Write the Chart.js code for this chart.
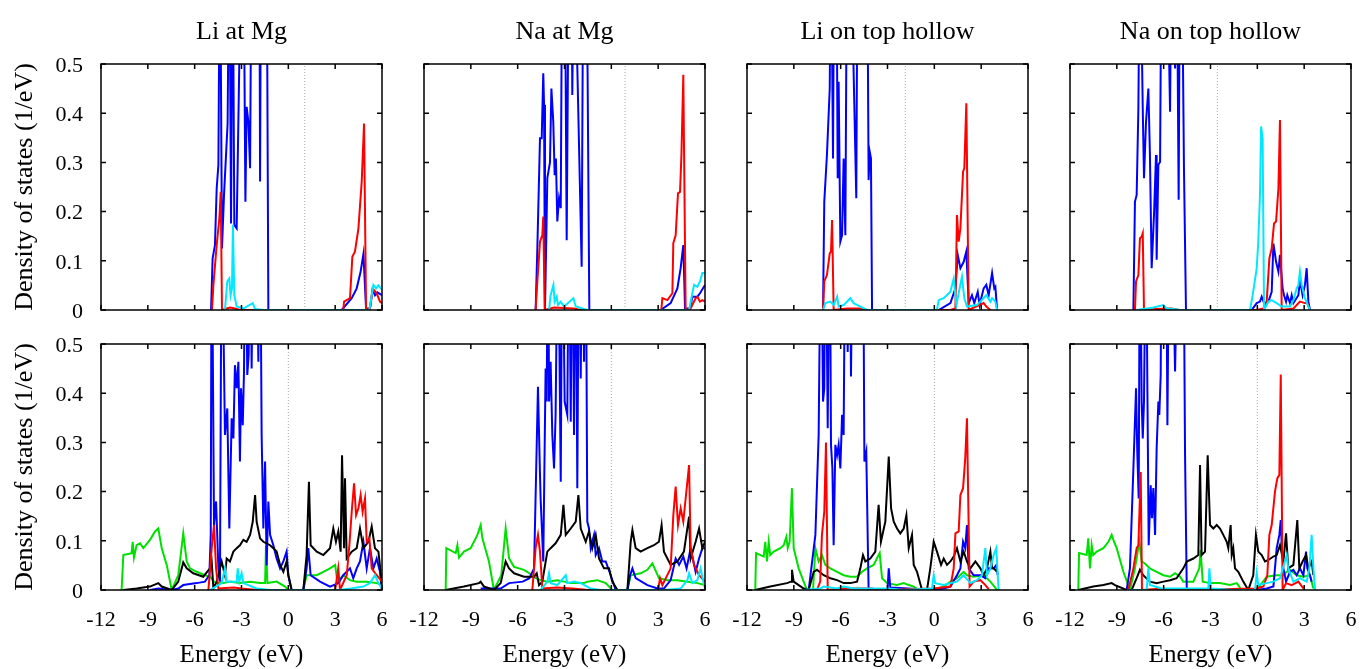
<!DOCTYPE html>
<html>
<head>
<meta charset="utf-8">
<script src="https://cdn.jsdelivr.net/npm/chart.js@4.4.1/dist/chart.umd.min.js"></script>
<style>
  body { margin: 0; background: #fff; width: 1363px; height: 669px; position: relative; overflow: hidden; }
  canvas { position: absolute; }
</style>
</head>
<body>
<script>
// panel headings and Fermi levels (dotted line), top row / bottom row
const titles = ["Li at Mg", "Na at Mg", "Li on top hollow", "Na on top hollow"];
const fermiTop = [1.05, 0.88, -1.86, -2.56];
const fermiBottom = [0, 0, 0, 0];
const energyTicks = [-12, -9, -6, -3, 0, 3, 6];
const dosTicks = [0, 0.1, 0.2, 0.3, 0.4, 0.5];

// [energy (eV), DOS (1/eV)] -- values above 0.5 run off the top of the frame
// --- Li at Mg, top
const liMgTopBlue = [[-4.95,0],[-4.85,0.105],[-4.70,0.132],[-4.59,0.247],[-4.48,0.295],[-4.38,0.8],[-4.25,0.125],[-4.12,0.234],[-3.89,0.379],[-3.78,0.8],[-3.67,0.176],[-3.57,0.8],[-3.46,0.173],[-3.31,0.166],[-2.99,0.8],[-2.88,0.8],[-2.75,0.22],[-2.67,0.413],[-2.56,0.383],[-2.45,0.288],[-2.35,0.8],[-1.86,0.8],[-1.81,0.261],[-1.75,0.8],[-1.39,0.8],[-1.28,0],[3.42,0],[4.06,0.024],[4.38,0.044],[4.63,0.078],[4.81,0.114],[4.98,0.003],[5.23,0.003],[5.40,0.041],[5.55,0.03],[5.70,0.036],[6.0,0.03]];
const liMgTopRed = [[-4.89,0],[-4.80,0.051],[-4.59,0.132],[-4.42,0.186],[-4.33,0.24],[-4.25,0],[-3.74,0.005],[-3.42,0.003],[-3.10,0],[3.52,0],[3.57,0.017],[3.95,0.024],[4.10,0.108],[4.27,0.119],[4.49,0.166],[4.70,0.261],[4.85,0.379],[4.98,0],[5.23,0.003],[5.40,0.044],[5.66,0.034],[5.87,0.017],[6.0,0.014]];
const liMgTopCyan = [[-4.06,0],[-3.91,0.058],[-3.78,0.064],[-3.70,0.03],[-3.61,0.044],[-3.55,0.173],[-3.46,0.03],[-3.31,0.007],[-2.88,0.003],[-2.28,0.014],[-2.13,0.002],[-1.60,0],[5.19,0],[5.45,0.051],[5.62,0.044],[5.77,0.05],[6.0,0.041]];

// --- Li at Mg, bottom
const liMgBotGreen = [[-10.68,0],[-10.57,0.071],[-10.04,0.075],[-9.97,0.098],[-9.89,0.066],[-9.72,0.091],[-9.50,0.095],[-9.29,0.085],[-8.86,0.102],[-8.54,0.119],[-8.33,0.125],[-8.11,0.085],[-7.79,0.051],[-7.47,0],[-7.05,0.03],[-6.73,0.115],[-6.51,0.058],[-6.30,0.044],[-5.87,0.037],[-5.34,0.03],[-5.02,0.027],[-4.76,0.017],[-4.48,0.014],[-4.16,0.014],[-3.74,0.017],[-3.10,0.014],[-2.45,0.017],[-1.81,0.014],[-1.49,0.014],[-1.43,0.09],[-1.34,0.014],[-0.75,0.017],[-0.21,0.007],[0,0],[0.96,0],[1.17,0.03],[1.82,0.03],[2.24,0.037],[2.67,0.044],[3.0,0.051],[3.14,0.017],[3.52,0.03],[3.95,0.02],[4.38,0.017],[5.02,0.017],[5.66,0.014],[6.0,0.01]];
const liMgBotBlack = [[-10.57,0],[-9.72,0.003],[-8.86,0.007],[-8.33,0.014],[-8.11,0.007],[-7.47,0],[-7.05,0.017],[-6.73,0.056],[-6.51,0.044],[-6.09,0.034],[-5.45,0.027],[-5.02,0.044],[-4.91,0.058],[-4.80,0.003],[-4.59,0.017],[-4.27,0.058],[-4.06,0.03],[-3.95,0.064],[-3.74,0.058],[-3.52,0.078],[-3.31,0.085],[-3.10,0.091],[-2.88,0.102],[-2.67,0.098],[-2.45,0.112],[-2.28,0.139],[-2.13,0.193],[-2.03,0.139],[-1.81,0.105],[-1.60,0.098],[-1.17,0.091],[-0.96,0.085],[-0.75,0.078],[-0.53,0.051],[-0.32,0.037],[-0.11,0.058],[0,0.03],[0.21,0],[0.96,0],[1.17,0.071],[1.32,0.22],[1.43,0.091],[1.82,0.078],[2.24,0.071],[2.67,0.085],[2.88,0.125],[3.05,0.098],[3.20,0.119],[3.35,0.078],[3.44,0.274],[3.57,0.085],[3.63,0.227],[3.74,0.064],[4.06,0.078],[4.38,0.085],[4.59,0.125],[4.81,0.085],[5.13,0.098],[5.34,0.129],[5.55,0.085],[5.77,0.078],[5.90,0.04],[6.0,0]];
const liMgBotRed = [[-5.12,0],[-4.91,0.085],[-4.76,0.132],[-4.63,0.044],[-4.48,0.003],[-3.5,0.005],[-3.0,0.003],[-2.0,0],[3.0,0],[3.20,0.044],[3.31,0],[3.74,0.03],[3.91,0.091],[4.06,0.159],[4.21,0.217],[4.34,0.152],[4.49,0.166],[4.63,0.193],[4.76,0.159],[4.91,0.186],[5.02,0.098],[5.19,0.105],[5.34,0.044],[5.66,0.03],[6.0,0.017]];
const liMgBotBlue = [[-8.86,0],[-8.33,0.003],[-7.47,0],[-7.05,0.003],[-6.73,0.01],[-5.87,0.014],[-5.34,0.017],[-5.06,0.03],[-4.97,0.112],[-4.91,0.8],[-4.76,0.132],[-4.63,0.18],[-4.48,0.044],[-4.38,0.017],[-4.27,0.8],[-4.06,0.315],[-3.91,0.369],[-3.78,0.125],[-3.63,0.349],[-3.52,0.308],[-3.42,0.457],[-3.31,0.41],[-3.20,0.464],[-3.10,0.261],[-3.03,0.41],[-2.92,0.335],[-2.84,0.444],[-2.75,0.8],[-2.63,0.437],[-2.54,0.478],[-2.45,0.8],[-2.35,0.45],[-2.24,0.8],[-2.07,0.8],[-1.92,0.464],[-1.81,0.8],[-1.71,0.315],[-1.60,0.125],[-1.49,0.261],[-1.39,0.05],[-1.28,0.18],[-1.17,0.112],[-0.96,0.091],[-0.75,0.064],[-0.53,0.044],[-0.32,0.058],[-0.11,0.078],[0,0.03],[0.21,0],[0.96,0],[1.17,0.044],[1.28,0.085],[1.43,0.03],[2.03,0.017],[2.67,0.007],[3.20,0.014],[3.52,0.03],[3.95,0.044],[4.16,0.024],[4.38,0.044],[4.59,0.058],[4.81,0.098],[5.02,0.044],[5.23,0.085],[5.45,0.044],[5.66,0.064],[5.87,0.037],[6.0,0]];
const liMgBotCyan = [[-5.02,0],[-4.27,0.014],[-4.16,0.03],[-4.06,0.044],[-3.95,0.017],[-3.31,0.017],[-3.24,0.044],[-3.14,0.017],[-2.99,0.034],[-2.88,0.014],[-2.03,0.003],[-1.17,0],[3.2,0],[4.0,0.003],[4.81,0.007],[5.23,0.014],[5.55,0.03],[5.77,0.014],[6.0,0.003]];

// --- Na at Mg, top
const naMgTopBlue = [[-4.85,0],[-4.74,0.125],[-4.57,0.349],[-4.46,0.349],[-4.36,0.481],[-4.31,0.417],[-4.25,0],[-4.10,0.268],[-3.93,0.30],[-3.84,0.45],[-3.72,0.383],[-3.63,0.274],[-3.55,0.308],[-3.46,0.18],[-3.35,0.227],[-3.24,0.207],[-3.14,0.8],[-2.99,0.8],[-2.86,0.142],[-2.71,0.8],[-2.56,0.8],[-2.50,0.437],[-2.39,0.8],[-1.90,0.088],[-1.79,0.8],[-1.64,0.8],[-1.52,0.478],[-1.41,0],[3.16,0],[3.80,0.014],[4.23,0.044],[4.44,0.085],[4.61,0.132],[4.72,0.003],[5.04,0.003],[5.19,0.027],[5.51,0.027],[5.68,0.034],[6.0,0.051]];
const naMgTopRed = [[-4.85,0],[-4.74,0.058],[-4.57,0.139],[-4.42,0.152],[-4.36,0.19],[-4.27,0],[-3.67,0.005],[-2.39,0.003],[-1.96,0],[3.20,0],[3.27,0.024],[3.59,0.02],[3.91,0.034],[3.97,0.136],[4.12,0.152],[4.27,0.237],[4.40,0.24],[4.49,0.315],[4.61,0.478],[4.76,0],[5.08,0.003],[5.40,0.024],[5.51,0.027],[5.68,0.017],[5.83,0.02],[6.0,0.017]];
const naMgTopCyan = [[-3.99,0],[-3.89,0.03],[-3.71,0.051],[-3.63,0.017],[-3.50,0.027],[-3.42,0.01],[-3.24,0.017],[-3.03,0.007],[-2.43,0.024],[-2.28,0.007],[-1.54,0],[4.98,0],[5.13,0.024],[5.30,0.051],[5.51,0.047],[5.68,0.058],[5.83,0.075],[6.0,0.075]];

// --- Na at Mg, bottom
const naMgBotGreen = [[-10.61,0],[-10.57,0.085],[-9.97,0.075],[-9.86,0.091],[-9.76,0.066],[-9.44,0.078],[-9.01,0.085],[-8.58,0.112],[-8.37,0.132],[-8.26,0.105],[-7.84,0.058],[-7.52,0],[-7.05,0.03],[-6.77,0.125],[-6.55,0.064],[-6.23,0.047],[-5.59,0.041],[-5.06,0.03],[-4.85,0.024],[-4.53,0.02],[-4.10,0.017],[-3.46,0.02],[-3.03,0.017],[-2.60,0.014],[-2.18,0.014],[-1.75,0.014],[-1.54,0.017],[-0.90,0.02],[-0.36,0.014],[0.06,0],[1.03,0],[1.24,0.03],[1.88,0.034],[2.31,0.041],[2.63,0.054],[2.73,0.047],[3.05,0.024],[3.59,0.02],[4.23,0.02],[4.87,0.017],[5.51,0.014],[6.0,0.01]];
const naMgBotBlack = [[-10.61,0],[-9.44,0.007],[-8.48,0.014],[-8.37,0.017],[-8.16,0.007],[-7.52,0],[-7.09,0.014],[-6.77,0.058],[-6.55,0.044],[-6.23,0.034],[-5.59,0.027],[-4.95,0.027],[-4.78,0.034],[-4.63,0.01],[-4.42,0.017],[-4.10,0.078],[-3.89,0.085],[-3.57,0.095],[-3.24,0.112],[-3.07,0.173],[-2.92,0.112],[-2.60,0.125],[-2.28,0.139],[-2.11,0.193],[-1.96,0.125],[-1.64,0.098],[-1.43,0.119],[-1.22,0.085],[-1.0,0.112],[-0.79,0.064],[-0.47,0.044],[-0.15,0.044],[0.06,0.017],[0.39,0],[1.03,0],[1.24,0.098],[1.35,0.122],[1.56,0.085],[1.88,0.078],[2.31,0.085],[2.73,0.091],[3.05,0.098],[3.22,0.132],[3.37,0.078],[3.80,0.051],[4.23,0.058],[4.65,0.078],[4.98,0.149],[5.08,0.064],[5.40,0.098],[5.62,0.125],[5.83,0.085],[6.0,0.098]];
const naMgBotRed = [[-5.06,0],[-4.85,0.085],[-4.70,0.112],[-4.57,0.078],[-4.42,0.003],[-3.5,0.005],[-2.5,0.003],[-1.5,0],[3.0,0],[3.12,0.024],[3.27,0.01],[3.80,0.044],[3.97,0.152],[4.12,0.21],[4.27,0.132],[4.44,0.166],[4.61,0.139],[4.76,0.186],[4.98,0.254],[5.08,0.085],[5.30,0.051],[5.62,0.03],[6.0,0.017]];
const naMgBotBlue = [[-8.37,0.003],[-7.09,0.003],[-6.55,0.014],[-5.67,0.017],[-5.25,0.024],[-4.95,0.044],[-4.70,0.413],[-4.57,0.234],[-4.53,0.186],[-4.36,0.058],[-4.21,0.45],[-4.14,0.383],[-4.06,0.8],[-3.99,0.383],[-3.89,0.464],[-3.78,0.315],[-3.67,0.247],[-3.57,0.356],[-3.42,0.8],[-3.24,0.22],[-3.14,0.8],[-2.99,0.383],[-2.82,0.356],[-2.71,0.8],[-2.60,0.342],[-2.50,0.8],[-2.39,0.315],[-2.28,0.8],[-2.18,0.207],[-2.07,0.8],[-1.96,0.43],[-1.86,0.8],[-1.75,0.464],[-1.64,0.8],[-1.54,0.139],[-1.43,0.125],[-1.32,0.085],[-1.11,0.112],[-1.0,0.071],[-0.79,0.085],[-0.58,0.058],[-0.36,0.058],[-0.04,0.03],[0.28,0],[1.03,0],[1.20,0.03],[1.35,0.044],[1.56,0.024],[2.31,0.01],[2.95,0.003],[3.37,0.003],[3.80,0.02],[4.12,0.064],[4.34,0.051],[4.61,0.068],[4.82,0.044],[5.08,0.085],[5.40,0.037],[5.62,0.064],[5.83,0.085],[6.0,0.085]];
const naMgBotCyan = [[-4.53,0],[-4.10,0.017],[-3.99,0.034],[-3.89,0.014],[-3.46,0.01],[-2.92,0.03],[-2.82,0.014],[-2.39,0.017],[-1.96,0.014],[-1.32,0.003],[-0.68,0],[3.37,0],[4.44,0.003],[4.87,0.02],[4.98,0.034],[5.19,0.014],[5.51,0.02],[5.72,0.044],[5.89,0.017],[6.0,0.003]];

// --- Li on top hollow, top
const liTopTopBlue = [[-7.13,0],[-7.05,0.22],[-6.88,0.315],[-6.70,0.45],[-6.62,0.8],[-6.49,0.308],[-6.41,0.8],[-6.28,0.8],[-6.19,0.268],[-6.13,0.464],[-6.02,0.139],[-5.91,0.152],[-5.81,0.308],[-5.70,0.152],[-5.59,0.8],[-5.38,0.8],[-5.0,0.227],[-4.91,0.8],[-4.31,0.8],[-4.21,0.264],[-4.14,0.322],[-4.06,0.308],[-3.99,0],[0.28,0],[1.03,0.014],[1.35,0.044],[1.50,0.112],[1.67,0.085],[1.88,0.098],[2.05,0.119],[2.20,0.014],[2.41,0.03],[2.56,0.014],[2.78,0.037],[2.90,0.01],[3.16,0.044],[3.33,0.051],[3.48,0.03],[3.70,0.075],[3.84,0.044],[3.91,0.047],[4.02,0]];
const liTopTopRed = [[-7.13,0],[-7.05,0.058],[-6.88,0.071],[-6.70,0.115],[-6.62,0.119],[-6.55,0.183],[-6.45,0],[-5.59,0.003],[-4.74,0.003],[-4.31,0],[1.03,0],[1.35,0.003],[1.45,0.193],[1.56,0.139],[1.67,0.166],[1.84,0.281],[1.92,0.288],[2.05,0.42],[2.20,0],[3.16,0.014],[3.33,0.007],[3.59,0]];
const liTopTopCyan = [[-7.13,0],[-6.98,0.014],[-6.66,0.017],[-6.45,0.01],[-6.23,0.027],[-6.13,0.007],[-5.81,0.01],[-5.38,0.024],[-5.17,0.014],[-4.74,0.007],[-4.31,0],[0.17,0],[0.28,0.02],[0.60,0.024],[1.03,0.037],[1.24,0.064],[1.41,0.01],[1.62,0.044],[1.77,0.068],[1.92,0.024],[2.09,0.007],[2.73,0.01],[3.33,0.03],[3.59,0.017],[3.70,0.024],[3.91,0.017],[4.02,0]];

// --- Li on top hollow, bottom
const liTopBotGreen = [[-11.47,0],[-11.42,0.075],[-10.93,0.068],[-10.83,0.098],[-10.72,0.058],[-10.61,0.098],[-10.51,0.071],[-10.29,0.078],[-9.86,0.085],[-9.65,0.091],[-9.48,0.108],[-9.39,0.085],[-9.27,0.098],[-9.12,0.207],[-9.01,0.085],[-8.69,0.044],[-8.37,0.017],[-8.16,0],[-7.77,0],[-7.62,0.085],[-7.41,0.058],[-7.20,0.071],[-6.98,0.051],[-6.66,0.044],[-6.23,0.037],[-5.81,0.03],[-5.38,0.027],[-4.95,0.027],[-4.63,0.037],[-4.31,0.044],[-3.89,0.051],[-3.50,0.075],[-3.35,0.024],[-3.03,0.014],[-2.39,0.01],[-1.96,0.014],[-1.64,0.01],[-1.32,0.007],[-1.0,0],[-0.04,0],[0.60,0.007],[1.03,0.017],[1.45,0.024],[1.88,0.037],[2.09,0.03],[2.52,0.027],[3.16,0.03],[3.59,0.017],[4.02,0]];
const liTopBotBlack = [[-11.47,0],[-10.51,0.007],[-9.44,0.014],[-9.18,0.017],[-9.12,0.041],[-9.01,0.017],[-8.37,0.003],[-8.05,0],[-7.73,0.037],[-7.52,0.041],[-7.09,0.03],[-6.66,0.024],[-6.23,0.02],[-5.81,0.014],[-5.38,0.014],[-4.95,0.017],[-4.74,0.044],[-4.57,0.071],[-4.42,0.058],[-4.10,0.064],[-3.78,0.078],[-3.57,0.173],[-3.42,0.098],[-3.14,0.139],[-2.92,0.271],[-2.77,0.166],[-2.60,0.139],[-2.39,0.125],[-2.18,0.115],[-1.96,0.125],[-1.79,0.152],[-1.64,0.085],[-1.43,0.112],[-1.32,0.051],[-1.11,0.037],[-0.79,0],[-0.47,0],[-0.26,0.044],[-0.04,0.098],[0.17,0.078],[0.43,0.051],[0.60,0.064],[0.81,0.051],[1.03,0.058],[1.24,0.068],[1.45,0.085],[1.67,0.058],[1.88,0.078],[2.09,0.058],[2.31,0.044],[2.63,0.058],[2.95,0.044],[3.16,0.03],[3.37,0.044],[3.59,0.078],[3.70,0.044],[3.80,0.044],[4.02,0.037]];
const liTopBotRed = [[-7.52,0],[-7.31,0.017],[-7.20,0.112],[-7.05,0.159],[-6.94,0.30],[-6.83,0],[-6.0,0.003],[-4.0,0.003],[-3.5,0],[-0.04,0.003],[1.03,0.007],[1.24,0.044],[1.35,0.115],[1.56,0.119],[1.67,0.193],[1.84,0.207],[1.98,0.268],[2.09,0.349],[2.26,0.007],[2.52,0.017],[2.95,0.02],[3.27,0.01],[3.48,0.002]];
const liTopBotBlue = [[-8.05,0],[-7.62,0.112],[-7.41,0.315],[-7.26,0.8],[-7.13,0.383],[-7.05,0.41],[-6.96,0.8],[-6.83,0.329],[-6.70,0.8],[-6.62,0.295],[-6.53,0.247],[-6.45,0.091],[-6.34,0.295],[-6.23,0.274],[-6.13,0.295],[-6.02,0.247],[-5.91,0.356],[-5.81,0.315],[-5.70,0.8],[-5.55,0.484],[-5.42,0.8],[-5.34,0.434],[-5.21,0.8],[-5.06,0.8],[-4.57,0.8],[-4.48,0.261],[-4.36,0.281],[-4.27,0.112],[-4.21,0],[-3.0,0],[-2.92,0.044],[-2.82,0.005],[-0.04,0],[0.6,0.003],[1.03,0.007],[1.45,0.03],[1.67,0.044],[1.84,0.098],[1.98,0.085],[2.09,0.132],[2.20,0.044],[2.52,0.03],[2.95,0.03],[3.27,0.024],[3.48,0.044],[3.80,0.044],[3.97,0.051],[4.06,0.03]];
const liTopBotCyan = [[-8.37,0],[-7.31,0.003],[-7.09,0.007],[-6.23,0.003],[-5.81,0.007],[-5.17,0.003],[-4.10,0.003],[-2.92,0.003],[-1.96,0],[-0.15,0.003],[-0.04,0.03],[0.06,0.014],[0.60,0.01],[1.03,0.014],[1.45,0.017],[1.88,0.03],[2.31,0.014],[2.73,0.02],[3.05,0.03],[3.27,0.085],[3.37,0.03],[3.59,0.044],[3.80,0.071],[3.97,0.085],[4.06,0.03],[4.12,0]];

// --- Na on top hollow, top
const naTopTopBlue = [[-7.94,0],[-7.84,0.22],[-7.73,0.234],[-7.62,0.41],[-7.52,0.8],[-7.34,0.41],[-7.26,0.268],[-7.13,0.383],[-6.98,0.45],[-6.88,0.315],[-6.77,0.085],[-6.62,0.193],[-6.49,0.315],[-6.45,0.102],[-6.34,0.295],[-6.23,0.301],[-6.13,0.8],[-5.81,0.8],[-5.59,0.403],[-5.49,0.8],[-5.27,0.491],[-5.17,0.8],[-5.04,0.224],[-4.95,0.8],[-4.85,0.8],[-4.70,0.288],[-4.57,0],[-0.36,0],[-0.04,0.014],[0.17,0.017],[0.28,0.027],[0.43,0.014],[0.71,0.017],[0.92,0.037],[1.03,0.135],[1.20,0.098],[1.35,0.078],[1.45,0.112],[1.62,0.044],[1.71,0.03],[1.84,0.017],[1.92,0.03],[2.09,0.014],[2.20,0.03],[2.31,0.014],[2.63,0.03],[2.73,0.061],[2.90,0.03],[3.05,0.051],[3.16,0.085],[3.27,0.017],[3.37,0]];
const naTopTopRed = [[-7.84,0],[-7.77,0.058],[-7.62,0.071],[-7.52,0.146],[-7.41,0.149],[-7.34,0.156],[-7.26,0],[-6.5,0.002],[-5.5,0.003],[-5.0,0],[-0.04,0],[0.39,0.003],[0.60,0.017],[0.77,0.105],[0.92,0.125],[1.07,0.176],[1.20,0.18],[1.35,0.247],[1.45,0.386],[1.56,0],[2.31,0.003],[2.73,0.017],[3.05,0.014],[3.20,0.014],[3.33,0.003]];
const naTopTopCyan = [[-7.73,0],[-7.09,0.003],[-6.66,0.005],[-6.02,0.01],[-5.81,0.003],[-5.38,0.002],[-4.95,0],[-0.47,0],[-0.30,0.03],[-0.04,0.085],[0.06,0.139],[0.17,0.234],[0.24,0.373],[0.34,0.349],[0.43,0],[0.71,0.017],[0.92,0.02],[1.24,0.014],[1.56,0.007],[2.09,0.007],[2.31,0.02],[2.52,0.044],[2.63,0.051],[2.73,0.078],[2.84,0.051],[3.05,0.024],[3.27,0.007],[3.37,0]];

// --- Na on top hollow, bottom
const naTopBotGreen = [[-11.47,0],[-11.42,0.075],[-10.93,0.071],[-10.83,0.105],[-10.72,0.044],[-10.61,0.091],[-10.51,0.071],[-10.29,0.078],[-9.86,0.085],[-9.54,0.098],[-9.33,0.112],[-9.22,0.102],[-9.01,0.085],[-8.58,0.037],[-8.16,0],[-7.84,0.044],[-7.56,0.098],[-7.41,0.058],[-7.20,0.054],[-6.88,0.044],[-6.45,0.037],[-6.02,0.03],[-5.59,0.027],[-5.27,0.034],[-4.95,0.027],[-4.74,0.017],[-4.10,0.017],[-3.72,0.044],[-3.63,0.081],[-3.50,0.017],[-3.03,0.014],[-2.39,0.014],[-1.75,0.01],[-1.32,0.014],[-1.0,0],[-0.04,0],[0.60,0.027],[1.24,0.03],[1.67,0.03],[1.88,0.037],[2.09,0.041],[2.52,0.03],[2.95,0.027],[3.37,0.03],[3.59,0.003]];
const naTopBotBlack = [[-11.47,0],[-10.51,0.007],[-9.86,0.01],[-9.33,0.014],[-9.12,0.01],[-8.37,0],[-8.05,0],[-7.73,0.024],[-7.52,0.041],[-7.31,0.03],[-6.88,0.017],[-6.45,0.014],[-6.02,0.017],[-5.59,0.02],[-5.17,0.024],[-4.74,0.044],[-4.52,0.058],[-4.10,0.064],[-3.78,0.071],[-3.67,0.254],[-3.57,0.071],[-3.35,0.078],[-3.18,0.274],[-3.03,0.132],[-2.82,0.125],[-2.60,0.132],[-2.39,0.125],[-2.18,0.112],[-1.96,0.098],[-1.86,0.085],[-1.71,0.132],[-1.64,0.071],[-1.54,0.085],[-1.43,0.044],[-1.22,0.037],[-0.90,0.017],[-0.58,0],[-0.26,0.03],[-0.09,0.112],[0.06,0.078],[0.28,0.071],[0.49,0.058],[0.71,0.061],[1.03,0.068],[1.24,0.071],[1.45,0.091],[1.67,0.058],[1.84,0.115],[1.98,0.044],[2.31,0.051],[2.56,0.142],[2.69,0.044],[2.90,0.058],[3.12,0.071],[3.27,0.044],[3.48,0.058],[3.59,0.03]];
const naTopBotRed = [[-8.26,0],[-7.94,0.044],[-7.73,0.085],[-7.62,0.091],[-7.47,0.24],[-7.39,0],[-6.5,0.002],[-5.0,0],[-0.04,0.003],[0.39,0.007],[0.64,0.03],[0.77,0.112],[0.92,0.132],[1.13,0.2],[1.28,0.227],[1.41,0.234],[1.50,0.438],[1.62,0],[1.84,0.014],[2.20,0.01],[2.63,0.017],[2.95,0.003]];
const naTopBotBlue = [[-8.37,0],[-8.16,0.044],[-7.94,0.247],[-7.77,0.41],[-7.69,0.281],[-7.60,0.186],[-7.52,0.8],[-7.41,0.383],[-7.34,0.308],[-7.26,0.383],[-7.13,0.8],[-7.05,0.437],[-6.96,0.091],[-6.83,0.213],[-6.75,0.146],[-6.66,0.207],[-6.55,0.112],[-6.45,0.288],[-6.34,0.383],[-6.28,0.356],[-6.19,0.437],[-6.13,0.8],[-5.85,0.8],[-5.76,0.335],[-5.64,0.8],[-5.49,0.8],[-5.27,0.444],[-5.06,0.8],[-4.74,0.8],[-4.63,0.274],[-4.52,0],[-0.04,0],[0.60,0.003],[1.03,0.007],[1.24,0.085],[1.41,0.112],[1.50,0.142],[1.58,0.078],[1.67,0.044],[1.84,0.017],[2.09,0.037],[2.31,0.041],[2.52,0.03],[2.73,0.044],[2.95,0.03],[3.12,0.078],[3.20,0.044],[3.37,0.03],[3.48,0.017]];
const naTopBotCyan = [[-8.37,0],[-7.09,0],[-6.98,0.044],[-6.88,0.01],[-6.13,0.003],[-5.06,0.003],[-3.57,0.003],[-3.14,0.003],[-3.07,0.044],[-2.99,0.003],[-1.54,0],[-0.15,0],[-0.04,0.034],[0.06,0.01],[0.60,0.014],[1.03,0.017],[1.45,0.024],[1.88,0.071],[1.98,0.044],[2.31,0.017],[2.73,0.024],[3.16,0.017],[3.33,0.044],[3.48,0.112],[3.59,0.044],[3.70,0]];

const COLORS = { blue: '#0000ff', red: '#ff0000', cyan: '#00e8ff', green: '#00e000', black: '#000000' };
const FONT = "'Liberation Serif', 'Times New Roman', serif";

const PLOT_LEFT = [101, 424, 747, 1070];
const PLOT_W = 281;

const panels = [
  { row: 0, col: 0, fermi: fermiTop[0], series: { cyan: liMgTopCyan, red: liMgTopRed, blue: liMgTopBlue } },
  { row: 0, col: 1, fermi: fermiTop[1], series: { cyan: naMgTopCyan, red: naMgTopRed, blue: naMgTopBlue } },
  { row: 0, col: 2, fermi: fermiTop[2], series: { cyan: liTopTopCyan, red: liTopTopRed, blue: liTopTopBlue } },
  { row: 0, col: 3, fermi: fermiTop[3], series: { cyan: naTopTopCyan, red: naTopTopRed, blue: naTopTopBlue } },
  { row: 1, col: 0, fermi: fermiBottom[0], series: { cyan: liMgBotCyan, red: liMgBotRed, black: liMgBotBlack, blue: liMgBotBlue, green: liMgBotGreen } },
  { row: 1, col: 1, fermi: fermiBottom[1], series: { cyan: naMgBotCyan, red: naMgBotRed, black: naMgBotBlack, blue: naMgBotBlue, green: naMgBotGreen } },
  { row: 1, col: 2, fermi: fermiBottom[2], series: { cyan: liTopBotCyan, red: liTopBotRed, black: liTopBotBlack, blue: liTopBotBlue, green: liTopBotGreen } },
  { row: 1, col: 3, fermi: fermiBottom[3], series: { cyan: naTopBotCyan, red: naTopBotRed, black: naTopBotBlack, blue: naTopBotBlue, green: naTopBotGreen } },
];

// gnuplot style box with inward ticks on all four sides
const framePlugin = {
  id: 'frame',
  afterDatasetsDraw(chart) {
    const { ctx, chartArea: a, scales: { x, y } } = chart;
    ctx.save();
    ctx.strokeStyle = '#000';
    ctx.lineWidth = 1.5;
    ctx.beginPath();
    x.ticks.forEach(t => {
      const px = x.getPixelForValue(t.value);
      ctx.moveTo(px, a.bottom); ctx.lineTo(px, a.bottom - 5);
      ctx.moveTo(px, a.top); ctx.lineTo(px, a.top + 5);
    });
    y.ticks.forEach(t => {
      const py = y.getPixelForValue(t.value);
      ctx.moveTo(a.left, py); ctx.lineTo(a.left + 5, py);
      ctx.moveTo(a.right, py); ctx.lineTo(a.right - 5, py);
    });
    ctx.stroke();
    ctx.strokeRect(a.left, a.top, a.width, a.height);
    ctx.restore();
  }
};

const toPts = arr => arr.map(p => ({ x: p[0], y: p[1] }));

panels.forEach(p => {
  const top = p.row === 0;
  const canvas = document.createElement('canvas');
  canvas.width = 101 + PLOT_W + 101;
  canvas.height = top ? 330 : 389;
  canvas.style.left = (PLOT_LEFT[p.col] - 101) + 'px';
  canvas.style.top = (top ? 0 : 280) + 'px';
  document.body.appendChild(canvas);

  const datasets = Object.keys(p.series).map(k => ({
    data: toPts(p.series[k]),
    borderColor: COLORS[k],
    borderWidth: 2,
    pointRadius: 0,
    tension: 0,
    fill: false
  }));
  datasets.push({
    data: [{ x: p.fermi, y: 0 }, { x: p.fermi, y: 0.5 }],
    borderColor: '#aaa',
    borderWidth: 1,
    borderDash: [1, 2],
    pointRadius: 0,
    fill: false
  });

  new Chart(canvas, {
    type: 'line',
    data: { datasets },
    options: {
      responsive: false,
      animation: false,
      events: [],
      layout: { padding: { left: 0, right: 101, top: top ? 0 : 64, bottom: 0 } },
      plugins: {
        legend: { display: false },
        tooltip: { enabled: false },
        title: {
          display: top,
          fullSize: false,
          text: titles[p.col],
          color: '#000',
          font: { family: FONT, size: 26, weight: 'normal', lineHeight: 1 },
          padding: { top: 18.7, bottom: 19.3 }
        }
      },
      scales: {
        x: {
          type: 'linear',
          min: -12, max: 6,
          afterBuildTicks: s => { s.ticks = energyTicks.map(v => ({ value: v })); },
          afterFit: s => { s.height = top ? 20 : 79; s.paddingLeft = 0; s.paddingRight = 0; },
          grid: { display: false, drawTicks: false },
          border: { display: false },
          ticks: {
            display: !top,
            color: '#000',
            padding: 17,
            maxRotation: 0,
            autoSkip: false,
            font: { family: FONT, size: 22 }
          },
          title: {
            display: !top,
            text: 'Energy (eV)',
            color: '#000',
            font: { family: FONT, size: 25, lineHeight: 1 },
            padding: { top: 0, bottom: 1.5 }
          }
        },
        y: {
          type: 'linear',
          min: 0, max: 0.5,
          afterBuildTicks: s => { s.ticks = dosTicks.map(v => ({ value: v })); },
          afterFit: s => { s.width = 101; s.paddingTop = 0; s.paddingBottom = 0; },
          grid: { display: false, drawTicks: false },
          border: { display: false },
          ticks: {
            display: p.col === 0,
            color: '#000',
            padding: 18,
            labelOffset: 2,
            callback: v => v === 0 ? '0' : v.toFixed(1),
            font: { family: FONT, size: 22 }
          },
          title: {
            display: p.col === 0,
            text: 'Density of states (1/eV)',
            color: '#000',
            font: { family: FONT, size: 26, lineHeight: 1 },
            padding: { top: 12, bottom: 0 }
          }
        }
      }
    },
    plugins: [framePlugin]
  });
});
</script>
</body>
</html>
